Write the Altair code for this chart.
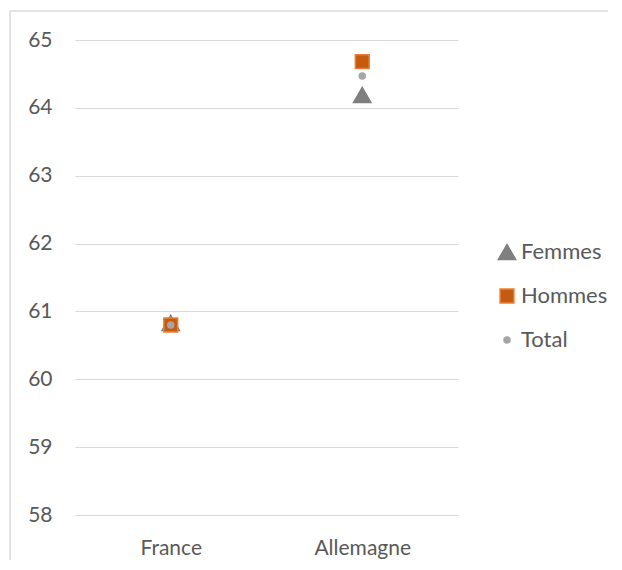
import altair as alt
import pandas as pd

pays = ["France", "Allemagne"]
series = ["Femmes", "Hommes", "Total"]
femmes = [60.83, 64.19]
hommes = [60.80, 64.68]
total = [60.80, 64.47]

fill_colors = ["#7f7f7f", "#c55a11", "#a5a5a5"]
stroke_colors = ["#7f7f7f", "#ed7d31", "#a5a5a5"]
shapes = ["triangle-up", "square", "circle"]
sizes = [300, 190, 36]

rows = []
for s, vals in zip(series, [femmes, hommes, total]):
    for p, v in zip(pays, vals):
        rows.append({"pays": p, "serie": s, "age": v})
df = pd.DataFrame(rows)

FONT = "Lato"
GRID = "#d9d9d9"
TXT = "#595959"

x = alt.X("pays:N", sort=pays,
          scale=alt.Scale(type="point", padding=0.5),
          axis=alt.Axis(title=None, labelAngle=0, domain=False, ticks=False, tickSize=0,
                        grid=False, labelPadding=22, labelFont=FONT, labelFontSize=21,
                        labelColor=TXT))
y = alt.Y("age:Q", scale=alt.Scale(domain=[58, 65], nice=False, zero=False),
          axis=alt.Axis(title=None, values=list(range(58, 66)), domain=False, ticks=False,
                        tickSize=0, labelPadding=23, labelFont=FONT, labelFontSize=21,
                        labelColor=TXT, gridColor=GRID, gridWidth=1))

legend = alt.Legend(title=None, orient="none", legendX=421, legendY=201,
                    labelFont=FONT, labelFontSize=22, labelColor=TXT,
                    rowPadding=22, labelOffset=3, padding=0)

points = alt.Chart(df).mark_point(filled=True, opacity=1, strokeWidth=1.5).encode(
    x=x,
    y=y,
    shape=alt.Shape("serie:N", sort=series, scale=alt.Scale(domain=series, range=shapes), legend=legend),
    fill=alt.Fill("serie:N", sort=series, scale=alt.Scale(domain=series, range=fill_colors), legend=legend),
    stroke=alt.Stroke("serie:N", sort=series, scale=alt.Scale(domain=series, range=stroke_colors), legend=legend),
    size=alt.Size("serie:N", sort=series, scale=alt.Scale(type="ordinal", domain=series, range=sizes), legend=legend),
    order=alt.Order("ord:Q"),
).transform_calculate(
    ord="indexof(['Femmes','Hommes','Total'], datum.serie)"
)

frame_left = alt.Chart(pd.DataFrame({"a": [0]})).mark_rule(color=GRID, strokeWidth=1.5).encode(
    x=alt.value(-65), y=alt.value(-29), y2=alt.value(700))
frame_top = alt.Chart(pd.DataFrame({"a": [0]})).mark_rule(color=GRID, strokeWidth=1.5).encode(
    x=alt.value(-65), x2=alt.value(800), y=alt.value(-29))

chart = alt.layer(frame_left, frame_top, points).properties(
    width=383, height=475,
    autosize=alt.AutoSizeParams(type="none"),
    padding={"left": 67, "top": 32, "right": 150, "bottom": 45},
).configure_view(stroke=None)

chart.save("out.html", embed_options={"renderer": "svg", "actions": False})
